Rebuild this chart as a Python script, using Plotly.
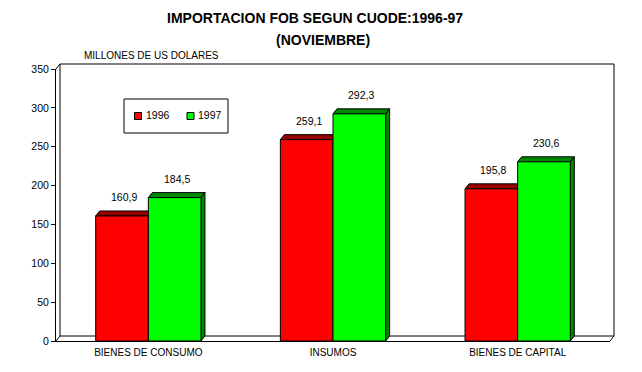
import plotly.graph_objects as go

# ---- data ----
categories = ["BIENES DE CONSUMO", "INSUMOS", "BIENES DE CAPITAL"]
years = ["1996", "1997"]
values_1996 = [160.9, 259.1, 195.8]
values_1997 = [184.5, 292.3, 230.6]
y_ticks = [0, 50, 100, 150, 200, 250, 300, 350]

front_colors = {"1996": "#FF0000", "1997": "#00FF00"}
dark_colors = {"1996": "#990000", "1997": "#008800"}

# ---- layout geometry (reference pixels; page has 8px body margin) ----
OFF = 8
W_PX, H_PX = 642 - OFF, 372 - OFF
L, R, T, B = 56 - OFF, 610 - OFF, 69 - OFF, 341 - OFF   # front plot area
DX_PX, DY_PX = 4, 5                                     # depth offset
plot_w, plot_h = R - L, B - T
x_range = [-0.5, 2.5]
y_range = [0, 350]
ux = plot_w / (x_range[1] - x_range[0])
uy = plot_h / (y_range[1] - y_range[0])
dx, dy = DX_PX / ux, DY_PX / uy
BW = 0.285


def px(xp):  # reference x pixel -> paper
    return (xp - OFF - L) / plot_w


def py(yp):  # reference y pixel -> paper
    return (B - (yp - OFF)) / plot_h


def fmt(v):
    return f"{v:.1f}".replace(".", ",")


fig = go.Figure()
shapes = []
annotations = []

series = [("1996", values_1996, -BW), ("1997", values_1997, 0.0)]
for name, vals, off in series:
    xs = list(range(len(categories)))
    fig.add_trace(go.Bar(
        x=xs, y=vals, name=name, width=BW, offset=off,
        marker=dict(color=front_colors[name], line=dict(color="black", width=1)),
        showlegend=False, hoverinfo="x+y",
    ))
    for i, v in enumerate(vals):
        x0, x1 = i + off, i + off + BW
        shapes.append(dict(
            type="path", xref="x", yref="y", layer="below",
            path=f"M {x0},{v} L {x1},{v} L {x1+dx},{v+dy} L {x0+dx},{v+dy} Z",
            fillcolor=dark_colors[name], line=dict(color="black", width=1)))
        shapes.append(dict(
            type="path", xref="x", yref="y", layer="below",
            path=f"M {x1},0 L {x1+dx},{dy} L {x1+dx},{v+dy} L {x1},{v} Z",
            fillcolor=dark_colors[name], line=dict(color="black", width=1)))
        annotations.append(dict(
            x=(x0 + x1) / 2, y=v, xref="x", yref="y", text=fmt(v),
            showarrow=False, yshift=19, xshift=2, yanchor="middle",
            font=dict(size=10.5, color="black")))

# back wall and floor (frame), in reference pixels
line = dict(color="black", width=1)
rL, rR, rT, rB = 56, 610, 69, 341
frame = [
    ((rL + DX_PX, rB - DY_PX), (rL + DX_PX, rT - DY_PX)),
    ((rL + DX_PX, rT - DY_PX), (rR + DX_PX, rT - DY_PX)),
    ((rR + DX_PX, rT - DY_PX), (rR + DX_PX, rB - DY_PX)),
    ((rL + DX_PX, rB - DY_PX), (rR + DX_PX, rB - DY_PX)),
    ((rL, rT), (rL + DX_PX, rT - DY_PX)),
    ((rR, rB), (rR + DX_PX, rB - DY_PX)),
    ((rL, rB), (rL + DX_PX, rB - DY_PX)),
]
for (a, b) in frame:
    shapes.append(dict(type="line", xref="paper", yref="paper", layer="below",
                       x0=px(a[0]), y0=py(a[1]), x1=px(b[0]), y1=py(b[1]), line=line))

# custom legend
shapes.append(dict(type="rect", xref="paper", yref="paper",
                   x0=px(124), x1=px(228), y0=py(133), y1=py(99),
                   line=dict(color="black", width=1), fillcolor="white"))
leg_pos = {"1996": 134.5, "1997": 187}
for name in years:
    x0 = leg_pos[name]
    shapes.append(dict(type="rect", xref="paper", yref="paper",
                       x0=px(x0), x1=px(x0 + 7), y0=py(119.5), y1=py(112.5),
                       line=dict(color="black", width=1), fillcolor=front_colors[name]))
    annotations.append(dict(x=px(x0 + 9), y=py(115.5), xref="paper", yref="paper",
                            text=name, showarrow=False, xanchor="left", yanchor="middle",
                            font=dict(size=10.5, color="black")))

# titles
annotations.append(dict(x=px(315), y=py(18), xref="paper", yref="paper",
                        text="<b>IMPORTACION FOB SEGUN CUODE:1996-97</b>", showarrow=False,
                        xanchor="center", yanchor="middle", font=dict(size=14, color="black")))
annotations.append(dict(x=px(323), y=py(40), xref="paper", yref="paper",
                        text="<b>(NOVIEMBRE)</b>", showarrow=False,
                        xanchor="center", yanchor="middle", font=dict(size=14, color="black")))
annotations.append(dict(x=px(82), y=py(56), xref="paper", yref="paper",
                        text="MILLONES DE US DOLARES", showarrow=False,
                        xanchor="left", yanchor="middle", font=dict(size=10, color="black")))

fig.update_layout(
    width=W_PX, height=H_PX,
    margin=dict(l=L, r=W_PX - R, t=T, b=H_PX - B, pad=0),
    paper_bgcolor="white", plot_bgcolor="white",
    font=dict(family="Liberation Sans, Arial, sans-serif", color="black", size=10),
    shapes=shapes, annotations=annotations,
    xaxis=dict(range=x_range, tickvals=list(range(len(categories))), ticktext=categories,
               showgrid=False, zeroline=False, showline=True, linecolor="black", linewidth=1,
               ticks="outside", ticklen=2, tickcolor="rgba(0,0,0,0)",
               tickfont=dict(size=10), fixedrange=True),
    yaxis=dict(range=y_range, tickvals=y_ticks, ticktext=[str(t) for t in y_ticks],
               showgrid=False, zeroline=False, showline=True, linecolor="black", linewidth=1,
               ticks="outside", ticklen=4, tickcolor="black", tickfont=dict(size=10.5),
               fixedrange=True),
    showlegend=False,
)

fig.write_html("out.html")
